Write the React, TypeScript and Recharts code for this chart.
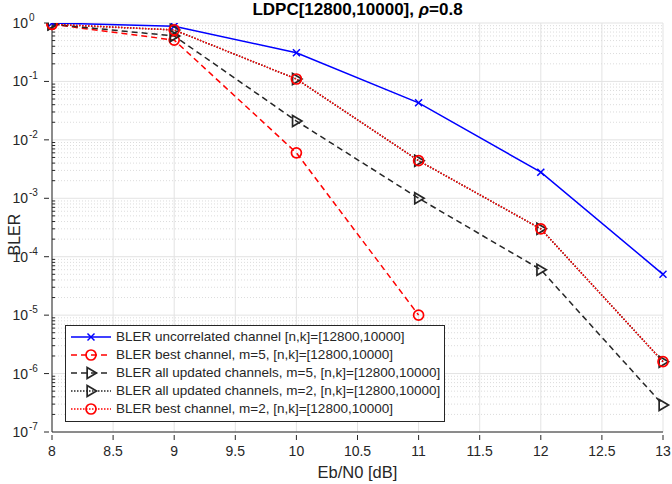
import React from "react";
import {
  CartesianGrid,
  Line,
  LineChart,
  ReferenceLine,
  XAxis,
  YAxis,
} from "recharts";

const ebn0 = [8, 9, 10, 11, 12, 13];
const uncorrelated = [1.0, 0.88, 0.31, 0.043, 0.0028, 5e-5];
const bestM5 = [0.95, 0.51, 0.006, 1e-5, null, null];
const allM5 = [0.95, 0.6, 0.021, 1e-3, 6e-5, 2.9e-7];
const allM2 = [0.95, 0.76, 0.11, 0.0044, 3e-4, 1.6e-6];
const bestM2 = [0.95, 0.76, 0.11, 0.0044, 3e-4, 1.6e-6];

const xTicks = [8, 8.5, 9, 9.5, 10, 10.5, 11, 11.5, 12, 12.5, 13];
const yExponents = [-7, -6, -5, -4, -3, -2, -1, 0];

const data = ebn0.map((x, i) => ({
  x,
  uncorr: uncorrelated[i],
  best5: bestM5[i],
  all5: allM5[i],
  all2: allM2[i],
  best2: bestM2[i],
}));

const yTicks = yExponents.map((e) => Math.pow(10, e));
const minorTicks: number[] = [];
yExponents.slice(0, -1).forEach((e) => {
  for (let k = 2; k <= 9; k++) minorTicks.push(k * Math.pow(10, e));
});

const FONT = "'Liberation Sans', Arial, sans-serif";
const AX = "#262626";

const series = [
  { key: "uncorr", name: "BLER uncorrelated channel [n,k]=[12800,10000]", color: "#0000ff", dash: undefined, marker: "x" },
  { key: "best5", name: "BLER best channel, m=5, [n,k]=[12800,10000]", color: "#ff0000", dash: "6 4", marker: "o" },
  { key: "all5", name: "BLER all updated channels, m=5, [n,k]=[12800,10000]", color: "#262626", dash: "6 4", marker: ">" },
  { key: "all2", name: "BLER all updated channels, m=2, [n,k]=[12800,10000]", color: "#262626", dash: "1.5 1.5", marker: ">" },
  { key: "best2", name: "BLER best channel, m=2, [n,k]=[12800,10000]", color: "#ff0000", dash: "1.5 1.5", marker: "o" },
];

function Marker({ kind, cx, cy, color }: { kind: string; cx: number; cy: number; color: string }) {
  if (kind === "x") {
    const s = 3.5;
    return (
      <g stroke={color} strokeWidth={1.5}>
        <line x1={cx - s} y1={cy - s} x2={cx + s} y2={cy + s} />
        <line x1={cx - s} y1={cy + s} x2={cx + s} y2={cy - s} />
      </g>
    );
  }
  if (kind === "o") {
    return <circle cx={cx} cy={cy} r={5} fill="none" stroke={color} strokeWidth={1.7} />;
  }
  const s = 5.5;
  return (
    <polygon
      points={`${cx + s},${cy} ${cx - s * 0.7},${cy - s} ${cx - s * 0.7},${cy + s}`}
      fill="none"
      stroke={color}
      strokeWidth={1.7}
    />
  );
}

const makeDot = (kind: string, color: string) => (props: any) => {
  const { cx, cy, value, index } = props;
  if (value == null || cx == null || cy == null) return <g key={index} />;
  return (
    <g key={index}>
      <Marker kind={kind} cx={cx} cy={cy} color={color} />
    </g>
  );
};

const YTick = (props: any) => {
  const { x, y, payload } = props;
  const e = Math.round(Math.log10(payload.value));
  return (
    <g>
      <line x1={x} y1={y} x2={x + 5} y2={y} stroke={AX} />
      <text x={x - 16} y={y + 5} textAnchor="end" fontFamily={FONT} fontSize={14} fill={AX}>
        10
      </text>
      <text x={x - 15} y={y - 2} textAnchor="start" fontFamily={FONT} fontSize={10} fill={AX}>
        {e}
      </text>
    </g>
  );
};

const XTick = (props: any) => {
  const { x, y, payload } = props;
  return (
    <g>
      <line x1={x} y1={y} x2={x} y2={y - 5} stroke={AX} />
      <text x={x} y={y + 16} textAnchor="middle" fontFamily={FONT} fontSize={14} fill={AX}>
        {String(payload.value)}
      </text>
    </g>
  );
};

const LegendBox = () => (
  <div
    style={{
      position: "absolute",
      left: 65,
      top: 325,
      border: "1px solid #262626",
      background: "#fff",
      padding: "2px 4px 3px 3px",
      fontFamily: FONT,
      fontSize: 13.5,
      color: AX,
      lineHeight: "18px",
    }}
  >
    {series.map((s) => (
      <div key={s.key} style={{ display: "flex", alignItems: "center", whiteSpace: "nowrap" }}>
        <svg width={44} height={16} style={{ marginRight: 3 }}>
          <line x1={2} y1={8} x2={42} y2={8} stroke={s.color} strokeWidth={1.5} strokeDasharray={s.dash} />
          <Marker kind={s.marker} cx={22} cy={8} color={s.color} />
        </svg>
        <span>{s.name}</span>
      </div>
    ))}
  </div>
);

export default function App() {
  return (
    <div style={{ position: "absolute", left: 0, top: 0, width: 672, height: 484, background: "#fff" }}>
      <div
        style={{
          position: "absolute",
          left: 52,
          width: 611,
          top: 0,
          textAlign: "center",
          fontFamily: FONT,
          fontWeight: "bold",
          fontSize: 17,
          color: "#000",
        }}
      >
        LDPC[12800,10000], <i>ρ</i>=0.8
      </div>
      <LineChart width={672} height={484} data={data} margin={{ top: 23, right: 9, bottom: 22, left: 12 }}>
        {minorTicks.map((v) => (
          <ReferenceLine key={v} y={v} stroke="#dcdcdc" strokeDasharray="1 2" strokeWidth={1} ifOverflow="hidden" />
        ))}
        <CartesianGrid stroke="#e3e3e3" strokeWidth={1} verticalValues={xTicks} horizontalValues={yTicks} />
        {minorTicks.map((v) => (
          <ReferenceLine
            key={`t${v}`}
            segment={[{ x: 8, y: v }, { x: 8.025, y: v }]}
            stroke={AX}
            strokeWidth={1}
            ifOverflow="hidden"
          />
        ))}
        <XAxis
          dataKey="x"
          type="number"
          domain={[8, 13]}
          ticks={xTicks}
          height={30}
          axisLine={{ stroke: AX }}
          tickLine={false}
          tick={<XTick />}
          interval={0}
          label={{ value: "Eb/N0 [dB]", position: "insideBottom", offset: -16, fontFamily: FONT, fontSize: 16.5, fill: AX }}
        />
        <YAxis
          scale="log"
          type="number"
          domain={[1e-7, 1]}
          ticks={yTicks}
          allowDataOverflow
          width={40}
          axisLine={{ stroke: AX }}
          tickLine={false}
          tick={<YTick />}
          interval={0}
          label={{ value: "BLER", angle: -90, position: "insideLeft", offset: 2, fontFamily: FONT, fontSize: 16, fill: AX, dy: 28 }}
        />
        {series.map((s) => (
          <Line
            key={s.key}
            dataKey={s.key}
            name={s.name}
            stroke={s.color}
            strokeWidth={1.5}
            strokeDasharray={s.dash}
            dot={makeDot(s.marker, s.color)}
            activeDot={false}
            isAnimationActive={false}
            connectNulls={false}
          />
        ))}
      </LineChart>
      <LegendBox />
    </div>
  );
}
